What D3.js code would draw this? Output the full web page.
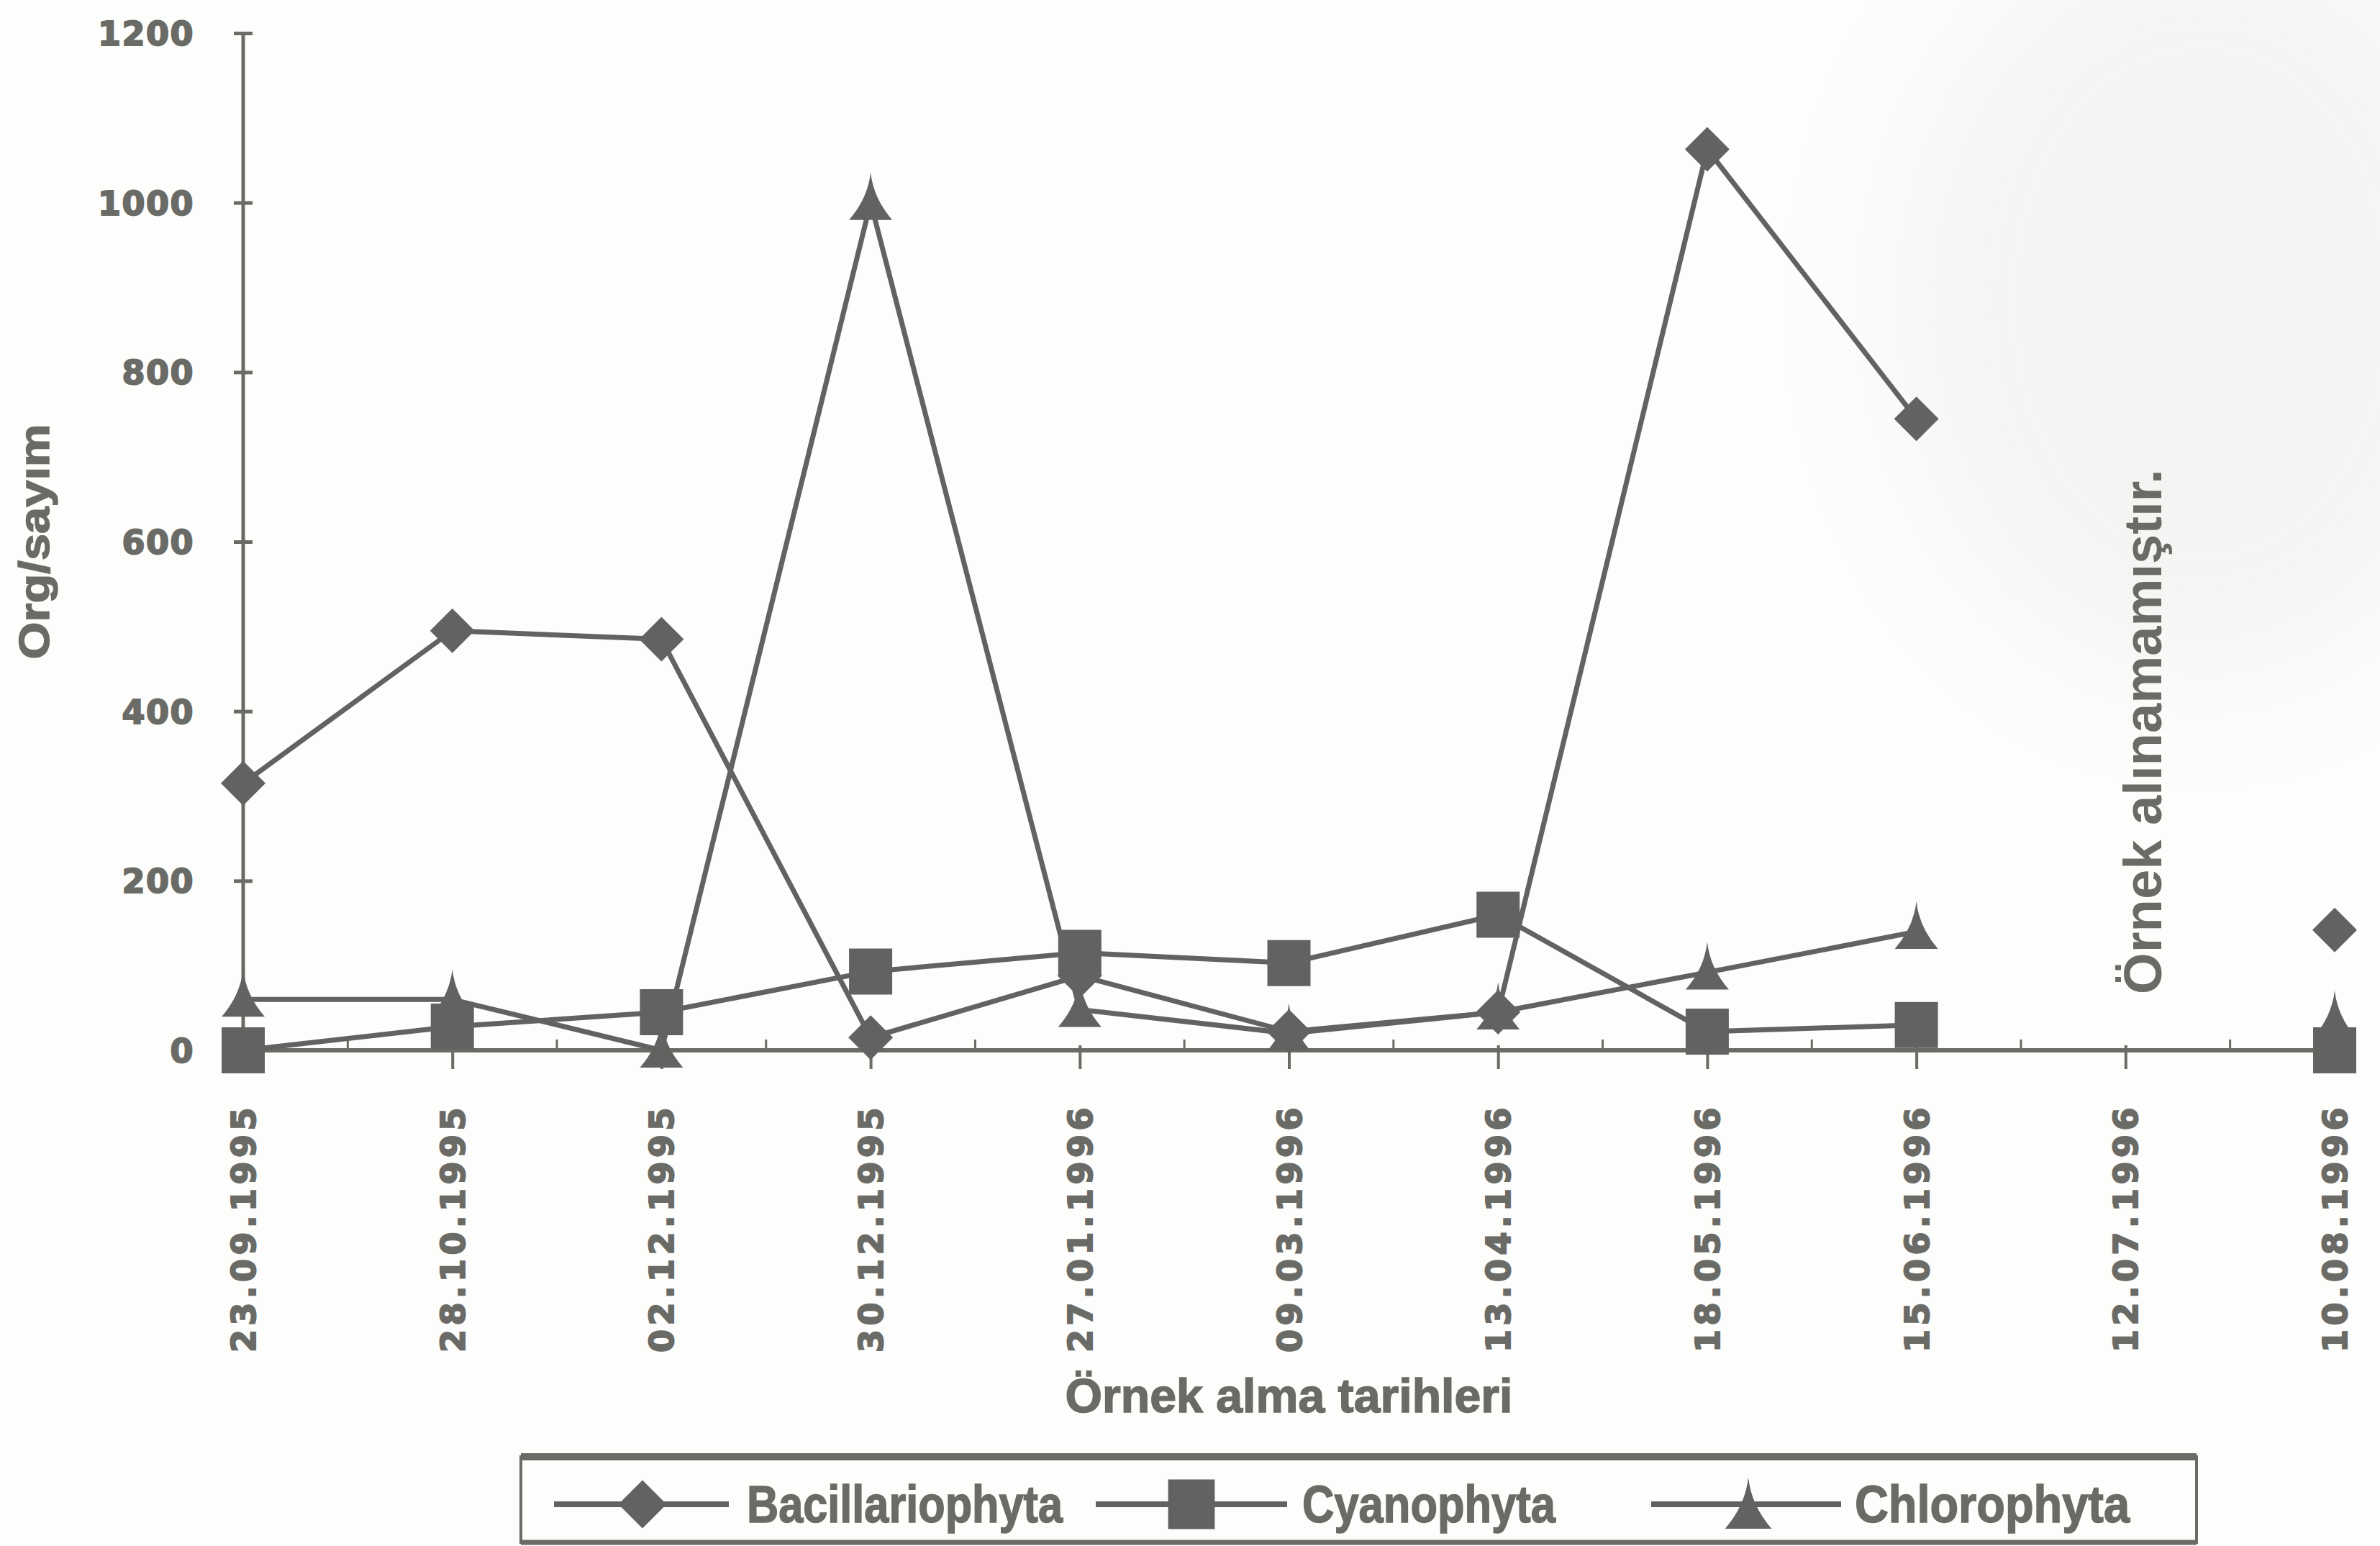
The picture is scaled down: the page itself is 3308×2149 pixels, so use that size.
<!DOCTYPE html>
<html>
<head>
<meta charset="utf-8">
<script src="https://cdn.jsdelivr.net/npm/d3@7"></script>
<style>
  html, body { margin: 0; padding: 0; background: #fdfdfc; }
  svg { display: block; }
</style>
</head>
<body>
<svg id="chart" width="3308" height="2149"></svg>
<script>
// Sampling dates (category axis)
const dates = ["23.09.1995", "28.10.1995", "02.12.1995", "30.12.1995", "27.01.1996",
               "09.03.1996", "13.04.1996", "18.05.1996", "15.06.1996", "12.07.1996", "10.08.1996"];

// Organism counts per sample (null = no sample taken)
const bacillariophyta = [315, 495, 485, 15, 88, 22, 45, 1063, 745, null, 142];
const cyanophyta      = [0, 28, 45, 93, 115, 103, 160, 22, 30, null, 0];
const chlorophyta     = [60, 60, 0, 1000, 48, 20, 45, 92, 140, null, 35];

const yTickValues = [0, 200, 400, 600, 800, 1000, 1200];
const seriesNames = ["Bacillariophyta", "Cyanophyta", "Chlorophyta"];
const markerKinds = ["diamond", "square", "triangle"];

const missingDate = "12.07.1996";
const missingNote = "Örnek alınamamıştır.";
const xTitle = "Örnek alma tarihleri";
const yTitle = "Org/sayım";

// ---- layout ----
const W = 3308, H = 2149;
const ink = "#6a6b67";
const markInk = "#626361";
const tickFont = "'DejaVu Sans', Verdana, sans-serif";
const titleFont = "'Liberation Sans Narrow', 'Liberation Sans', Arial, sans-serif";

const svg = d3.select("#chart");
const defs = svg.append("defs");
defs.append("filter").attr("id", "haze")
  .attr("x", "-60%").attr("y", "-60%").attr("width", "220%").attr("height", "220%")
  .append("feGaussianBlur").attr("stdDeviation", 90);

svg.append("rect").attr("width", W).attr("height", H).attr("fill", "#fdfdfc");

// faint greyish cloud in the upper right of the sheet
svg.append("ellipse")
  .attr("cx", 3060).attr("cy", 420).attr("rx", 420).attr("ry", 520)
  .attr("fill", "#e9ece7").attr("opacity", 0.45).attr("filter", "url(#haze)");

const x = d3.scalePoint().domain(dates).range([338, 3245]).padding(0);
const y = d3.scaleLinear().domain([0, 1200]).range([1460, 46]);

// ---- y axis ----
const yAxis = svg.append("g")
  .attr("transform", `translate(${x(dates[0])},0)`)
  .call(d3.axisLeft(y).tickValues(yTickValues).tickSize(13).tickFormat(d3.format("d")));
yAxis.select(".domain").remove();
yAxis.append("line")
  .attr("x1", 0).attr("x2", 0).attr("y1", y(0)).attr("y2", y(1200))
  .attr("stroke", ink).attr("stroke-width", 5);
yAxis.selectAll(".tick line")
  .attr("x1", -13).attr("x2", 13)
  .attr("stroke", ink).attr("stroke-width", 5);
yAxis.selectAll(".tick text")
  .attr("x", -68).attr("dy", "0.36em")
  .attr("fill", ink).attr("stroke", ink).attr("stroke-width", 2)
  .attr("font-family", tickFont).attr("font-weight", "bold").attr("font-size", 46)
  .attr("letter-spacing", 1.5);

// ---- x axis ----
const xAxis = svg.append("g")
  .attr("transform", `translate(0,${y(0)})`)
  .call(d3.axisBottom(x).tickSize(26));
xAxis.select(".domain").remove();
xAxis.append("line")
  .attr("x1", x(dates[0])).attr("x2", x(dates[dates.length - 1]))
  .attr("y1", 0).attr("y2", 0)
  .attr("stroke", ink).attr("stroke-width", 6);
xAxis.selectAll(".tick line")
  .attr("y1", -7).attr("y2", 26)
  .attr("stroke", ink).attr("stroke-width", 4);
xAxis.selectAll(".tick text")
  .attr("transform", "rotate(-90)")
  .attr("x", -74).attr("y", 0).attr("dy", "0.36em")
  .attr("text-anchor", "end")
  .attr("fill", ink).attr("stroke", ink).attr("stroke-width", 2)
  .attr("font-family", tickFont).attr("font-weight", "bold").attr("font-size", 46)
  .attr("letter-spacing", 5.5);

// small inner ticks midway between dates
const mids = d3.pairs(dates).map(([a, b]) => (x(a) + x(b)) / 2);
xAxis.selectAll("line.minor").data(mids).join("line")
  .attr("class", "minor")
  .attr("x1", d => d).attr("x2", d => d)
  .attr("y1", 0).attr("y2", -15)
  .attr("stroke", ink).attr("stroke-width", 3);

// ---- axis titles ----
svg.append("text")
  .attr("x", (x(dates[0]) + x(dates[dates.length - 1])) / 2).attr("y", 1963)
  .attr("text-anchor", "middle")
  .attr("fill", ink).attr("stroke", ink).attr("stroke-width", 1.5)
  .attr("font-family", titleFont).attr("font-weight", "bold").attr("font-size", 66)
  .attr("textLength", 622).attr("lengthAdjust", "spacingAndGlyphs")
  .text(xTitle);

svg.append("text")
  .attr("transform", "translate(68,753) rotate(-90)")
  .attr("text-anchor", "middle")
  .attr("fill", ink).attr("stroke", ink).attr("stroke-width", 1.5)
  .attr("font-family", titleFont).attr("font-weight", "bold").attr("font-size", 60)
  .attr("textLength", 327).attr("lengthAdjust", "spacingAndGlyphs")
  .text(yTitle);

// ---- note for the missing sample ----
svg.append("text")
  .attr("transform", `translate(${x(missingDate) + 50},1382) rotate(-90)`)
  .attr("text-anchor", "start")
  .attr("fill", ink)
  .attr("font-family", titleFont).attr("font-weight", "bold").attr("font-size", 74)
  .attr("textLength", 730).attr("lengthAdjust", "spacingAndGlyphs")
  .text(missingNote);

// ---- series ----
const series = [bacillariophyta, cyanophyta, chlorophyta].map((vals, i) => ({
  name: seriesNames[i],
  kind: markerKinds[i],
  points: dates.map((d, j) => ({ date: d, v: vals[j] }))
}));

const line = d3.line()
  .defined(d => d.v != null)
  .x(d => x(d.date))
  .y(d => y(d.v));

function markerPath(kind, s) {
  // s = scale factor
  if (kind === "diamond") {
    const w = 31 * s, h = 31 * s;
    return `M0,${-h}L${w},0L0,${h}L${-w},0Z`;
  }
  if (kind === "square") {
    const w = 30 * s, h = 32 * s;
    return `M${-w},${-h}H${w}V${h}H${-w}Z`;
  }
  // tall triangle with slightly pinched sides
  const w = 30 * s, top = 42 * s, bot = 24 * s;
  return `M0,${-top}Q${4 * s},${-6 * s} ${w},${bot}H${-w}Q${-4 * s},${-6 * s} 0,${-top}Z`;
}

const gLines = svg.append("g");
gLines.selectAll("path").data(series).join("path")
  .attr("d", s => line(s.points))
  .attr("fill", "none")
  .attr("stroke", markInk)
  .attr("stroke-width", 7)
  .attr("stroke-linejoin", "round");

const gMarks = svg.append("g");
series.forEach(s => {
  gMarks.append("g").selectAll("path")
    .data(s.points.filter(p => p.v != null))
    .join("path")
    .attr("transform", p => `translate(${x(p.date)},${y(p.v)})`)
    .attr("d", markerPath(s.kind, 1))
    .attr("fill", markInk);
});

// ---- legend ----
const legend = svg.append("g");
const lgLeft = 724, lgTop = 2025, lgRight = 3053, lgBottom = 2144;
legend.append("rect")
  .attr("x", lgLeft).attr("y", lgTop)
  .attr("width", lgRight - lgLeft).attr("height", lgBottom - lgTop)
  .attr("fill", "none").attr("stroke", ink).attr("stroke-width", 4);
legend.append("line")
  .attr("x1", lgLeft).attr("x2", lgRight).attr("y1", lgTop).attr("y2", lgTop)
  .attr("stroke", ink).attr("stroke-width", 10);
legend.append("line")
  .attr("x1", lgLeft).attr("x2", lgRight).attr("y1", lgBottom).attr("y2", lgBottom)
  .attr("stroke", ink).attr("stroke-width", 7);

const lgItems = [
  { lineX: [770, 1013], markX: 893, textX: 1038, textLen: 439 },
  { lineX: [1523, 1789], markX: 1656, textX: 1810, textLen: 352 },
  { lineX: [2295, 2559], markX: 2430, textX: 2578, textLen: 382 }
];
const lgY = 2091;
series.forEach((s, i) => {
  const it = lgItems[i];
  const g = legend.append("g");
  g.append("line")
    .attr("x1", it.lineX[0]).attr("x2", it.lineX[1])
    .attr("y1", lgY).attr("y2", lgY)
    .attr("stroke", markInk).attr("stroke-width", 8);
  g.append("path")
    .attr("transform", `translate(${it.markX},${lgY + (s.kind === "triangle" ? 8 : 0)})`)
    .attr("d", markerPath(s.kind, 1.08))
    .attr("fill", markInk);
  g.append("text")
    .attr("x", it.textX).attr("y", 2116)
    .attr("fill", ink).attr("stroke", ink).attr("stroke-width", 1.5)
    .attr("font-family", titleFont).attr("font-weight", "bold").attr("font-size", 72)
    .attr("textLength", it.textLen).attr("lengthAdjust", "spacingAndGlyphs")
    .text(s.name);
});
</script>
</body>
</html>
